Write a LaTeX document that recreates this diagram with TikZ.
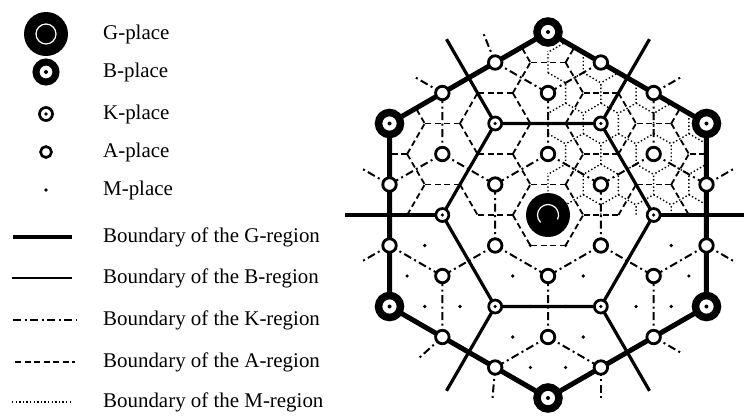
\documentclass[tikz,border=0pt]{standalone}
\usepackage{fontspec}
\setmainfont{Liberation Serif}
\usetikzlibrary{calc}
\begin{document}
\begin{tikzpicture}[x=1bp,y=1bp,
  gbound/.style={line width=5bp},
  bbound/.style={line width=3.2bp},
  kbound/.style={line width=2bp,dash pattern=on 8bp off 3.5bp on 2bp off 3.5bp},
  abound/.style={line width=1.8bp,dash pattern=on 6bp off 3.5bp},
  mbound/.style={line width=1.4bp,dash pattern=on 1.4bp off 2.2bp},
  lbl/.style={anchor=west,inner sep=0pt,font=\fontsize{21}{24}\selectfont},
  gplace/.style={circle,fill=black,minimum size=44bp,inner sep=0pt},
  gring/.style={path picture={\draw[white,line width=1.2bp] (path picture bounding box.center) circle (10bp);}},
  garc/.style={path picture={\draw[white,line width=1.2bp] ([shift={(225:10.5bp)}]path picture bounding box.center) arc[start angle=225,end angle=-25,radius=10.5bp];}},
  bplace/.style={circle,draw=black,fill=white,line width=7.5bp,minimum size=22bp,inner sep=0pt,
     path picture={\fill[black] (path picture bounding box.center) circle (2bp);}},
  kplace/.style={circle,draw=black,fill=white,line width=2.7bp,minimum size=13bp,inner sep=0pt,
     path picture={\fill[black] (path picture bounding box.center) circle (1.8bp);}},
  aplace/.style={circle,draw=black,fill=white,line width=2.8bp,minimum size=13.5bp,inner sep=0pt},
  mplace/.style={circle,fill=black,minimum size=3.6bp,inner sep=0pt},
]
\useasboundingbox (0,-416) rectangle (744,0);

% ---------------- legend ----------------
\node[gplace,gring] (lg) at (46,-34) {};
\node[lbl] (tg) at (103,-34) {G-place};
\node[bplace,minimum size=20bp,line width=7bp] (lb) at (46,-72) {};
\node[lbl] (tb) at (103,-72) {B-place};
\node[kplace] (lk) at (46,-114) {};
\node[lbl] (tk) at (103,-114) {K-place};
\node[aplace,minimum size=11bp,line width=2.6bp] (la) at (46,-152) {};
\node[lbl] (ta) at (103,-152) {A-place};
\node[mplace] (lm) at (46,-190) {};
\node[lbl] (tm) at (103,-190) {M-place};

\coordinate (l1a) at (13,-237); \coordinate (l1b) at (72,-237);
\coordinate (l2a) at (12,-278); \coordinate (l2b) at (72,-278);
\coordinate (l3a) at (13,-320); \coordinate (l3b) at (76,-320);
\coordinate (l4a) at (15,-362); \coordinate (l4b) at (75,-362);
\coordinate (l5a) at (12,-402); \coordinate (l5b) at (73,-402);
\draw[gbound,line width=4.5bp] (l1a) -- (l1b);
\draw[bbound,line width=2.4bp] (l2a) -- (l2b);
\draw[kbound,line width=1.8bp] (l3a) -- (l3b);
\draw[abound,line width=1.6bp] (l4a) -- (l4b);
\draw[mbound,line width=1.2bp] (l5a) -- (l5b);
\node[lbl] (t1) at (103,-237) {Boundary of the G-region};
\node[lbl] (t2) at (103,-278) {Boundary of the B-region};
\node[lbl] (t3) at (103,-320) {Boundary of the K-region};
\node[lbl] (t4) at (103,-362) {Boundary of the A-region};
\node[lbl] (t5) at (103,-402) {Boundary of the M-region};

% ---------------- diagram ----------------
\begin{scope}[shift={(548,-215)}]
\foreach \k in {0,...,5}{
  \coordinate (K\k) at (\k*60:105.655);
  \coordinate (B\k) at (30+\k*60:183);
  \coordinate (E\k) at (\k*60:203);
}
% M-region boundaries (dotted), upper right quadrant
\begin{scope}
\clip (B0) -- (B1) -- (B2) -- (B3) -- (B4) -- (B5) -- cycle;
\clip (-0.8,-0.8) rectangle (200,200);
\foreach \a in {-5,...,6}{\foreach \b in {-1,...,7}{
  \pgfmathsetmacro\qx{35.2184*\a+17.6092*\b}
  \pgfmathsetmacro\qy{30.5*\b}
  \draw[mbound] (\qx,\qy) ++(0,20.3323) -- ++(-30:20.3323) -- ++(0,-20.3323) -- ++(-150:20.3323);
}}
\end{scope}
% A-region boundaries (dashed), upper half and G's own region
\begin{scope}
\clip (B0) -- (B1) -- (B2) -- (B3) -- (B4) -- (B5) -- cycle;
\foreach \a in {-10,...,10}{\foreach \b in {-1,...,7}{
  \pgfmathtruncatemacro\tp{mod(mod(\b-\a,3)+3,3)}
  \ifnum\tp=1
   \pgfmathsetmacro\qx{35.2184*\a+17.6092*\b}
   \pgfmathsetmacro\qy{30.5*\b}
   \foreach \dd in {60,180,300}{
     \pgfmathsetmacro\rx{\qx+35.2184*cos(\dd)}
     \pgfmathsetmacro\ry{\qy+35.2184*sin(\dd)}
     \pgfmathtruncatemacro\ok{(((\qy>-0.5)&&(\ry>-0.5))||(((\qx/100)^2+(\qy/100)^2<0.13)&&((\rx/100)^2+(\ry/100)^2<0.13)))?1:0}
     \ifnum\ok=1 \draw[abound] (\qx,\qy) -- (\rx,\ry); \fi
   }
  \fi
}}
\end{scope}
% K-region boundaries (dash-dot)
\begin{scope}
\clip (B0) -- (B1) -- (B2) -- (B3) -- (B4) -- (B5) -- cycle;
\foreach \i in {-5,...,5}{\foreach \j in {-7,...,7}{
  \pgfmathtruncatemacro\tp{mod(mod(\i-\j,3)+3,3)}
  \ifnum\tp=2
    \pgfmathsetmacro\qx{52.8275*\i}
    \pgfmathsetmacro\qy{30.5*\i+61*\j}
    \draw[kbound] (\qx,\qy) -- ++(90:61) (\qx,\qy) -- ++(210:61) (\qx,\qy) -- ++(330:61);
  \fi
}}
\end{scope}
% K-region stubs outside the G-region
\foreach \ang/\dir [count=\n] in {10.89/30,-10.89/-30,49.11/30,130.89/150,109.11/112,190.89/210,169.11/150,250.89/265,229.11/222,310.89/330,289.11/270}{
  \coordinate (S\n) at (\ang:161.41);
  \path (S\n) ++(\dir:32) coordinate (T\n);
  \draw[kbound] (S\n) -- (T\n);
}
% B-region boundaries
\draw[bbound,line join=round] (K0) -- (K1) -- (K2) -- (K3) -- (K4) -- (K5) -- cycle;
\foreach \k in {0,...,5}{\draw[bbound] (K\k) -- (E\k);}
% G-region boundary
\draw[gbound,line join=round] (B0) -- (B1) -- (B2) -- (B3) -- (B4) -- (B5) -- cycle;

% M-places (lower half)
\foreach \a in {-7,...,7}{\foreach \b in {-6,...,-1}{
  \pgfmathtruncatemacro\tp{mod(mod(\b-\a,3)+3,3)}
  \ifnum\tp>0
   \pgfmathsetmacro\qx{35.2184*\a+17.6092*\b}
   \pgfmathsetmacro\qy{30.5*\b}
   \pgfmathtruncatemacro\ok{((abs(\qx)<156)&&(abs(0.5*\qx+0.866025*\qy)<156)&&(abs(-0.5*\qx+0.866025*\qy)<156))?1:0}
   \ifnum\ok=1 \node[mplace] (M\a x\b) at (\qx,\qy) {}; \fi
  \fi
}}
% A-places
\foreach \i in {-3,...,3}{\foreach \j in {-4,...,4}{
  \pgfmathtruncatemacro\tp{mod(mod(\i-\j,3)+3,3)}
  \ifnum\tp>0
   \pgfmathsetmacro\qx{52.8275*\i}
   \pgfmathsetmacro\qy{30.5*\i+61*\j}
   \pgfmathtruncatemacro\ok{((abs(\qx)<159.5)&&(abs(0.5*\qx+0.866025*\qy)<159.5)&&(abs(-0.5*\qx+0.866025*\qy)<159.5))?1:0}
   \ifnum\ok=1 \node[aplace] (A\i x\j) at (\qx,\qy) {}; \fi
  \fi
}}
% K-, B-, G-places
\foreach \k in {0,...,5}{
  \node[kplace] (Kp\k) at (K\k) {};
  \node[bplace] (Bp\k) at (B\k) {};
}
\node[gplace,garc] (Gp) at (0,0) {};
\end{scope}
\end{tikzpicture}
\end{document}
